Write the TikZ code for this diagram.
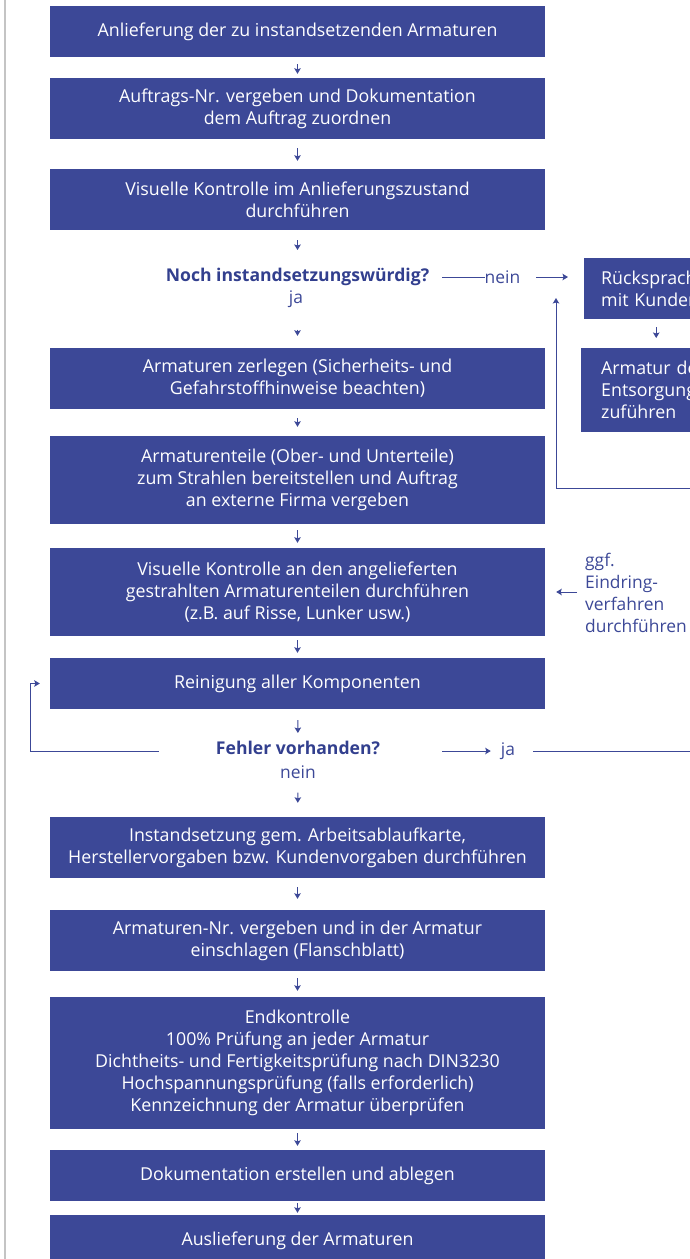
\documentclass[tikz,border=0pt]{standalone}
\usepackage{fontspec}
\setmainfont{Open Sans}
\usetikzlibrary{arrows.meta}
\definecolor{boxblue}{HTML}{3C4897}
\definecolor{textblue}{HTML}{323F8E}
\definecolor{rulegray}{HTML}{C4C4C4}

\begin{document}
\begin{tikzpicture}[x=1pt, y=-1pt,
    stepbox/.style={fill=boxblue, text=white, minimum width=495pt, inner sep=0pt, align=center, font=\fontsize{17.8}{22}\selectfont},
    sidebox/.style={fill=boxblue, text=white, inner ysep=0pt, text width=110pt, align=left, font=\fontsize{17.8}{22}\selectfont},
    question/.style={text=textblue, inner sep=0pt, font=\fontsize{17.6}{22}\selectfont\bfseries},
    note/.style={text=boxblue, inner sep=0pt, align=left, font=\fontsize{17.4}{22}\selectfont},
    link/.style={boxblue, line width=1pt},
    flow/.style={link, -{Stealth[length=5.5pt,width=6.5pt,inset=1pt]}},
    trim/.style 2 args={shorten <=#1pt, shorten >=#2pt}]
    \useasboundingbox (0,0) rectangle (690,1259);
    \clip (0,0) rectangle (690,1259);
    \draw[rulegray, line width=1.5pt] (5,0) -- (5,1259);

    \node[stepbox, minimum height=51pt] (b1) at (297.5,31.5) {Anlieferung der zu instandsetzenden Armaturen};
    \node[stepbox, minimum height=61pt] (b2) at (297.5,108.5) {Auftrags-Nr. vergeben und Dokumentation\\dem Auftrag zuordnen};
    \node[stepbox, minimum height=61pt] (b3) at (297.5,199.5) {Visuelle Kontrolle im Anlieferungszustand\\durchführen};
    \node[question] (q1) at (297.5,277) {Noch instandsetzungswürdig?};
    \node[note] (ja1) at (296,299) {ja};
    \node[note] (nein1) at (502.5,277) {nein};
    \node[sidebox, anchor=north west, inner xsep=17pt, minimum height=61pt] (r1) at (584,258) {Rücksprache\\mit Kunden};
    \node[sidebox, anchor=north west, inner xsep=20pt, minimum height=84pt] (r2) at (581,348) {Armatur der\\Entsorgung\\zuführen};
    \node[stepbox, minimum height=61pt] (b4) at (297.5,378.5) {Armaturen zerlegen (Sicherheits- und\\Gefahrstoffhinweise beachten)};
    \node[stepbox, minimum height=88pt] (b5) at (297.5,480) {Armaturenteile (Ober- und Unterteile)\\zum Strahlen bereitstellen und Auftrag\\an externe Firma vergeben};
    \node[stepbox, minimum height=88pt] (b6) at (297.5,592) {Visuelle Kontrolle an den angelieferten\\gestrahlten Armaturenteilen durchführen\\(z.B. auf Risse, Lunker usw.)};
    \node[note, anchor=west] (ggf) at (585,593) {ggf.\\Eindring-\\verfahren\\durchführen};
    \node[stepbox, minimum height=51pt] (b7) at (297.5,683.5) {Reinigung aller Komponenten};
    \node[question] (q2) at (298,748) {Fehler vorhanden?};
    \node[note] (nein2) at (298,772) {nein};
    \node[note] (ja2) at (508,751) {ja};
    \node[stepbox, minimum height=61pt] (b8) at (297.5,847.5) {Instandsetzung gem. Arbeitsablaufkarte,\\Herstellervorgaben bzw. Kundenvorgaben durchführen};
    \node[stepbox, minimum height=61pt] (b9) at (297.5,940.5) {Armaturen-Nr. vergeben und in der Armatur\\einschlagen (Flanschblatt)};
    \node[stepbox, minimum height=132pt] (b10) at (297.5,1063) {Endkontrolle\\100\% Prüfung an jeder Armatur\\Dichtheits- und Fertigkeitsprüfung nach DIN3230\\Hochspannungsprüfung (falls erforderlich)\\Kennzeichnung der Armatur überprüfen};
    \node[stepbox, minimum height=51pt] (b11) at (297.5,1175.5) {Dokumentation erstellen und ablegen};
    \node[stepbox, minimum height=51pt] (b12) at (297.5,1240.5) {Auslieferung der Armaturen};

    \coordinate (loopx) at (30,0);
    \coordinate (backin) at (700,488);
    \coordinate (backtip) at (556,298);
    \coordinate (jaout) at (700,751);

    \draw[flow, trim={7}{4}] (b1) -- (b2);
    \draw[flow, trim={9}{8}] (b2) -- (b3);
    \draw[flow, trim={10}{18}] (b3) -- (q1);
    \draw[flow, trim={22}{12}] (ja1.south -| b4.north) -- (b4.north);
    \draw[link, trim={13}{0}] (q1.east) -- (nein1.west);
    \draw[flow, trim={16}{16}] (nein1.east) -- (r1.west |- nein1);
    \draw[flow, trim={8}{10}] (r1) -- (r2);
    \draw[flow] (backin) -| (backtip);
    \draw[flow, trim={9}{9}] (b4) -- (b5);
    \draw[flow, trim={6}{5}] (b5) -- (b6);
    \draw[flow, trim={8}{11}] (ggf.west |- b6.east) -- (b6.east);
    \draw[flow, trim={4}{5}] (b6) -- (b7);
    \draw[flow, trim={11}{8}] (b7) -- (q2);
    \draw[flow, trim={57}{10}] (q2.west |- ja2) -| (loopx |- b7) -- (b7.west);
    \draw[flow, trim={62}{10}] (q2.east |- ja2) -- (ja2.west);
    \draw[link, trim={18}{0}] (ja2.east) -- (jaout);
    \draw[flow, trim={14}{14}] (nein2) -- (b8);
    \draw[flow, trim={9}{11}] (b8) -- (b9);
    \draw[flow, trim={7}{6}] (b9) -- (b10);
    \draw[flow, trim={4}{4}] (b10) -- (b11);
    \draw[flow, trim={2}{2}] (b11) -- (b12);
\end{tikzpicture}
\end{document}
